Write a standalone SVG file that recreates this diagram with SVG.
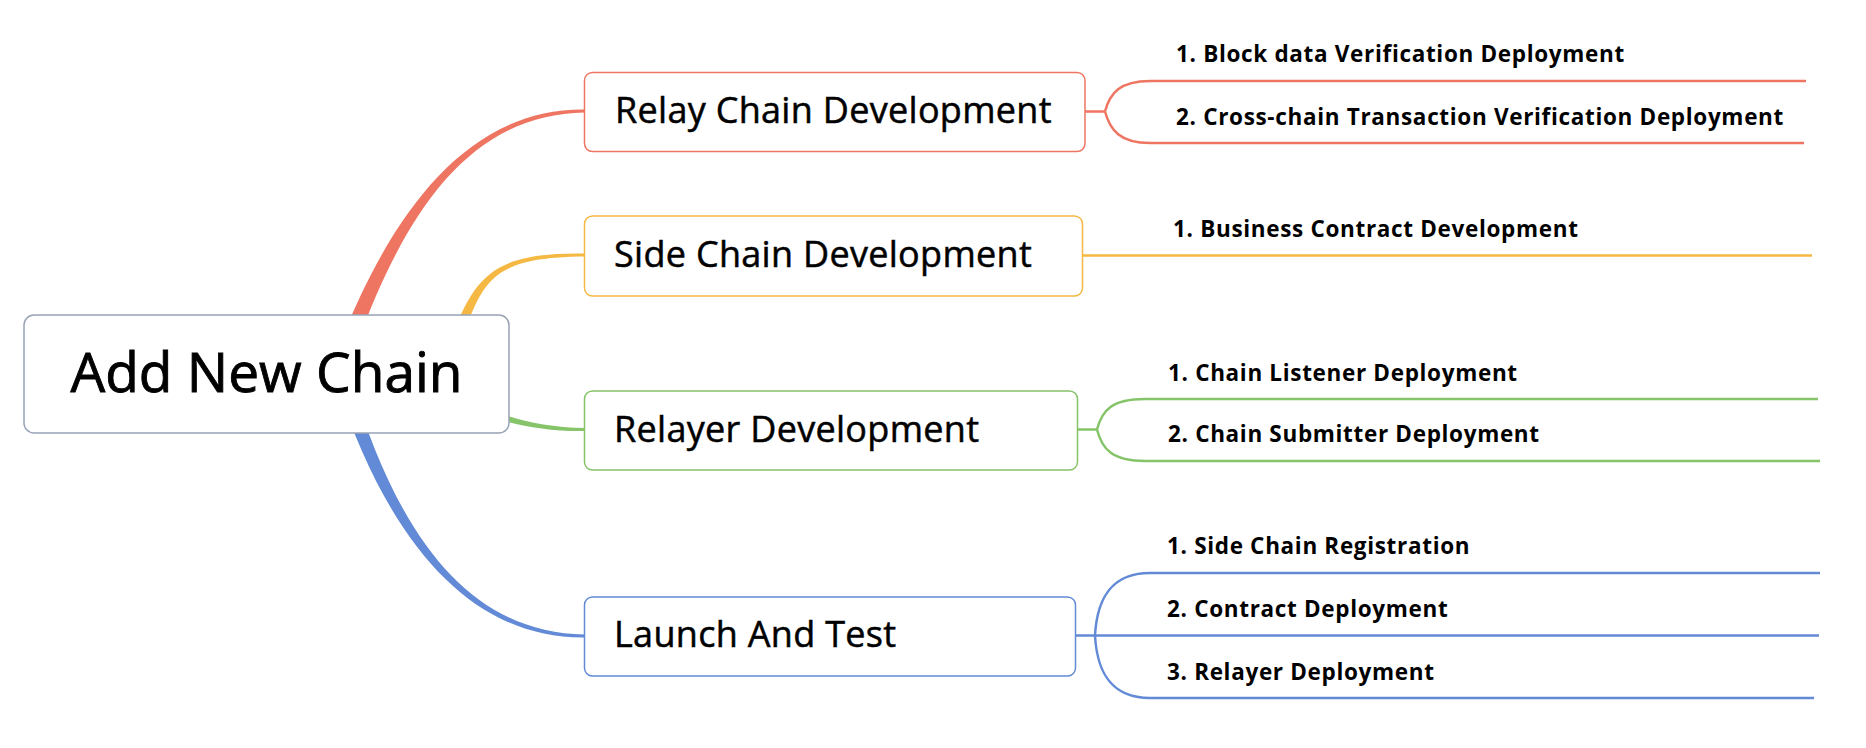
<svg xmlns="http://www.w3.org/2000/svg" width="1866" height="748" viewBox="0 0 1866 748">
<style>
.bg{fill:#ffffff}
.root{fill:#ffffff;stroke:#98A3B6;stroke-width:1.5}
.box{fill:#ffffff;stroke-width:1.5}
.t0{font-family:"Open Sans","Noto Sans",sans-serif;font-size:55px;fill:#000;stroke:#000;stroke-width:0.9}
.t1{font-family:"Open Sans","Noto Sans",sans-serif;font-size:36px;letter-spacing:0.3px;fill:#000;stroke:#000;stroke-width:0.5}
.t2{font-family:"Open Sans","Noto Sans",sans-serif;font-size:22.5px;font-weight:bold;letter-spacing:0.67px;fill:#000}
.ln{fill:none;stroke-width:2.5;stroke-linecap:butt}
.red{stroke:#EE7562}.redf{fill:#EE7562}
.yel{stroke:#F4B843}.yelf{fill:#F4B843}
.grn{stroke:#86C469}.grnf{fill:#86C469}
.blu{stroke:#628AD6}.bluf{fill:#628AD6}
</style>
<rect class="bg" x="0" y="0" width="1866" height="748"/>
<g id="connectors">
  <path class="redf" d="M342.5,337.2 C394.8,207.7 470,108 585,109.5 L585,112.5 C470,114 405.2,212.3 357.5,342.8 Z"/>
  <path class="yelf" d="M449.8,343.2 C474.2,273.7 495,252.4 585,253.5 L585,256.5 C495,257.6 481.8,276.3 460.2,346.8 Z"/>
  <path class="grnf" d="M462,396.2 C491.4,412.1 530,427.2 585,428 L585,431 C530,431.8 488.6,417.9 458,403.8 Z"/>
  <path class="bluf" d="M350.2,377.7 C398,538.3 470,633 585,634.5 L585,637.5 C470,639 388,541.7 335.8,382.3 Z"/>
  <path class="ln red" d="M1085,111.5 H1105"/>
  <path class="ln red" d="M1105,111.5 C1110,93 1120,81 1150,81 H1806"/>
  <path class="ln red" d="M1105,111.5 C1110,130 1120,143 1150,143 H1804"/>
  <path class="ln yel" d="M1082,255.5 H1812"/>
  <path class="ln grn" d="M1077,429.5 H1097"/>
  <path class="ln grn" d="M1097,429.5 C1102,410 1112,399 1145,399 H1818"/>
  <path class="ln grn" d="M1097,429.5 C1102,449 1112,461 1145,461 H1820"/>
  <path class="ln blu" d="M1076,635.5 H1819"/>
  <path class="ln blu" d="M1095,635.5 C1097,600 1110,573 1150,573 H1820"/>
  <path class="ln blu" d="M1095,635.5 C1097,671 1110,698 1150,698 H1814"/>
</g>
<g id="root">
  <rect class="root" x="24" y="315" width="485" height="118" rx="10"/>
  <text class="t0" x="266.5" y="392" text-anchor="middle">Add New Chain</text>
</g>
<g id="relay">
  <rect class="box red" x="584.5" y="72.5" width="500.5" height="79" rx="8"/>
  <text class="t1" x="615" y="123.3">Relay Chain Development</text>
</g>
<g id="side">
  <rect class="box yel" x="584.5" y="216" width="498" height="80" rx="8"/>
  <text class="t1" x="614" y="266.7">Side Chain Development</text>
</g>
<g id="relayer">
  <rect class="box grn" x="584.5" y="391" width="493" height="79" rx="8"/>
  <text class="t1" x="614" y="441.7">Relayer Development</text>
</g>
<g id="launch">
  <rect class="box blu" x="584.5" y="597" width="491" height="79" rx="8"/>
  <text class="t1" x="614" y="647.3">Launch And Test</text>
</g>
<g id="relay-1"><text class="t2" x="1176" y="62.3">1. Block data Verification Deployment</text></g>
<g id="relay-2"><text class="t2" x="1176" y="125">2. Cross-chain Transaction Verification Deployment</text></g>
<g id="side-1"><text class="t2" x="1173" y="236.5">1. Business Contract Development</text></g>
<g id="relayer-1"><text class="t2" x="1168" y="380.7">1. Chain Listener Deployment</text></g>
<g id="relayer-2"><text class="t2" x="1168" y="441.7">2. Chain Submitter Deployment</text></g>
<g id="launch-1"><text class="t2" x="1167" y="554.3">1. Side Chain Registration</text></g>
<g id="launch-2"><text class="t2" x="1167" y="617">2. Contract Deployment</text></g>
<g id="launch-3"><text class="t2" x="1167" y="680">3. Relayer Deployment</text></g>
</svg>
